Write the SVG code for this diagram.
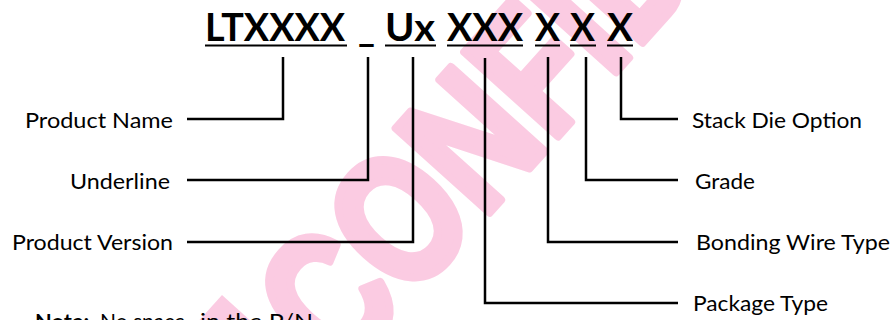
<svg xmlns="http://www.w3.org/2000/svg" width="893" height="320" viewBox="0 0 893 320">
<style>
.wm{font-family:"Liberation Sans",Arial,sans-serif;font-weight:bold;font-size:182px;fill:#FBCBE2;stroke:#FBCBE2;stroke-width:9;stroke-linejoin:round}
.wmf{fill:#FBCBE2}
.title{font-family:Lato,"Liberation Sans",sans-serif;font-weight:bold;font-size:38px;fill:#000}
.lbl{font-family:Lato,"Liberation Sans",sans-serif;font-size:21px;fill:#000}
.ul{stroke:#000;stroke-width:2;fill:none}
.conn{stroke:#000;stroke-width:2.5;fill:none;stroke-linejoin:miter}
</style>
<rect width="893" height="320" fill="#fff"/>
<g id="watermark">
<rect class="wmf" transform="translate(222,295) rotate(-48)" x="-40" y="0" width="40" height="50"/>
<text class="wm" transform="translate(340,378) rotate(-48) scale(0.78,1)">CONFIDENTIAL</text>
</g>
<g id="partnumber">
<text class="title" x="205" y="41" textLength="140" lengthAdjust="spacingAndGlyphs">LTXXXX</text>
<text class="title" x="358" y="41" textLength="17" lengthAdjust="spacingAndGlyphs">_</text>
<text class="title" x="385" y="41" textLength="50" lengthAdjust="spacingAndGlyphs">Ux</text>
<text class="title" x="447" y="41" textLength="76" lengthAdjust="spacingAndGlyphs">XXX</text>
<text class="title" x="535" y="41" textLength="25" lengthAdjust="spacingAndGlyphs">X</text>
<text class="title" x="570" y="41" textLength="25" lengthAdjust="spacingAndGlyphs">X</text>
<text class="title" x="607" y="41" textLength="26" lengthAdjust="spacingAndGlyphs">X</text>
<line class="ul" x1="205" y1="45.5" x2="347" y2="45.5"/>
<line class="ul" x1="385" y1="45.5" x2="436" y2="45.5"/>
<line class="ul" x1="447" y1="45.5" x2="523" y2="45.5"/>
<line class="ul" x1="535" y1="45.5" x2="560" y2="45.5"/>
<line class="ul" x1="570" y1="45.5" x2="596" y2="45.5"/>
<line class="ul" x1="607" y1="45.5" x2="633" y2="45.5"/>
</g>
<g id="connectors">
<polyline class="conn" points="283,57 283,119 187,119"/>
<polyline class="conn" points="368,57 368,180 187,180"/>
<polyline class="conn" points="413,57 413,242 187,242"/>
<polyline class="conn" points="485,58 485,303 678,303"/>
<polyline class="conn" points="548,57 548,242 678,242"/>
<polyline class="conn" points="586,57 586,180 678,180"/>
<polyline class="conn" points="621,57 621,119 678,119"/>
</g>
<g id="product-name"><text class="lbl" x="25" y="128" textLength="148" lengthAdjust="spacingAndGlyphs">Product Name</text></g>
<g id="underline"><text class="lbl" x="70" y="189" textLength="100" lengthAdjust="spacingAndGlyphs">Underline</text></g>
<g id="product-version"><text class="lbl" x="12" y="250" textLength="161" lengthAdjust="spacingAndGlyphs">Product Version</text></g>
<g id="stack-die-option"><text class="lbl" x="692" y="128" textLength="170" lengthAdjust="spacingAndGlyphs">Stack Die Option</text></g>
<g id="grade"><text class="lbl" x="695" y="189" textLength="60" lengthAdjust="spacingAndGlyphs">Grade</text></g>
<g id="bonding-wire-type"><text class="lbl" x="696" y="250" textLength="194" lengthAdjust="spacingAndGlyphs">Bonding Wire Type</text></g>
<g id="package-type"><text class="lbl" x="693" y="311" textLength="135" lengthAdjust="spacingAndGlyphs">Package Type</text></g>
<g id="note">
<text class="lbl" x="35" y="329" font-weight="bold" textLength="54" lengthAdjust="spacingAndGlyphs">Note:</text>
<text class="lbl" x="100" y="329">No space</text>
<text class="lbl" x="200" y="329" textLength="113" lengthAdjust="spacingAndGlyphs">in the P/N</text>
</g>
</svg>
